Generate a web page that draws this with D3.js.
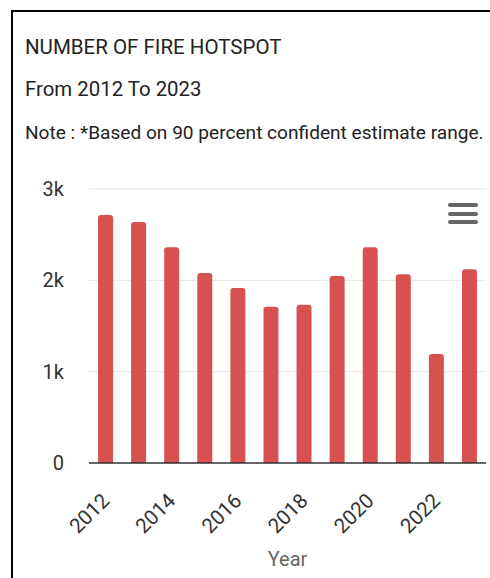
<!DOCTYPE html>
<html lang="en">
<head>
<meta charset="UTF-8">
<title>Number of Fire Hotspot</title>
<script src="https://d3js.org/d3.v7.min.js"></script>
<style>
    body { margin: 0; background: #fff; }
    text { font-family: Roboto, "Noto Sans", sans-serif; }
</style>
</head>
<body>
<div id="chart"></div>
<script>
    // values
    const years = ['2012', '2013', '2014', '2015', '2016', '2017', '2018', '2019', '2020', '2021', '2022', '2023'];
    const hotspots = [2716, 2640, 2362, 2081, 1917, 1712, 1734, 2048, 2362, 2067, 1194, 2121];
    const yTicks = [0, 1000, 2000, 3000];
    const yTickLabels = ['0', '1k', '2k', '3k'];

    const width = 490, height = 578;
    const plot = {left: 89, right: 486, top: 189, bottom: 463};

    const svg = d3.select('#chart')
        .append('svg')
        .attr('width', width)
        .attr('height', height);

    // frame (only top and left edges are visible)
    svg.append('path')
        .attr('d', `M12,${height} V11 H${width}`)
        .attr('fill', 'none')
        .attr('stroke', '#000')
        .attr('stroke-width', 2);

    svg.append('text')
        .attr('x', 25).attr('y', 54)
        .attr('font-size', 20.5)
        .attr('fill', '#222')
        .text('NUMBER OF FIRE HOTSPOT');

    svg.append('text')
        .attr('x', 25).attr('y', 96)
        .attr('font-size', 20.4)
        .attr('fill', '#222')
        .text('From 2012 To 2023');

    svg.append('text')
        .attr('x', 25).attr('y', 139)
        .attr('font-size', 19.1)
        .attr('fill', '#222')
        .text('Note : *Based on 90 percent confident estimate range.');

    const x = d3.scaleBand()
        .domain(years)
        .range([plot.left, plot.right])
        .paddingInner(0.547)
        .paddingOuter(0.2735);

    const y = d3.scaleLinear()
        .domain([0, 3000])
        .range([plot.bottom, plot.top]);

    // grid lines
    svg.append('g')
        .selectAll('line')
        .data(yTicks.slice(1))
        .enter()
        .append('line')
        .attr('x1', plot.left).attr('x2', plot.right)
        .attr('y1', d => y(d)).attr('y2', d => y(d))
        .attr('stroke', '#e6e6e6')
        .attr('stroke-width', 1);

    // y labels
    svg.append('g')
        .selectAll('text')
        .data(yTicks)
        .enter()
        .append('text')
        .attr('x', 64)
        .attr('y', d => y(d))
        .attr('dy', '0.35em')
        .attr('text-anchor', 'end')
        .attr('font-size', 20)
        .attr('fill', '#333')
        .text((d, i) => yTickLabels[i]);

    // bars, rounded on top only
    const r = 3;
    svg.append('g')
        .selectAll('path')
        .data(hotspots)
        .enter()
        .append('path')
        .attr('d', (d, i) => {
            const x0 = x(years[i]), w = x.bandwidth(), y0 = y(d), y1 = y(0);
            return `M${x0},${y1} V${y0 + r} Q${x0},${y0} ${x0 + r},${y0} H${x0 + w - r} Q${x0 + w},${y0} ${x0 + w},${y0 + r} V${y1} Z`;
        })
        .attr('fill', '#d75151');

    // x axis line
    svg.append('line')
        .attr('x1', plot.left).attr('x2', plot.right)
        .attr('y1', plot.bottom).attr('y2', plot.bottom)
        .attr('stroke', '#333')
        .attr('stroke-width', 1.5);

    // x labels, every other year
    svg.append('g')
        .selectAll('text')
        .data(years.filter((d, i) => i % 2 === 0))
        .enter()
        .append('text')
        .attr('transform', d => `translate(${x(d) + x.bandwidth() / 2 + 5},${plot.bottom + 39}) rotate(-45)`)
        .attr('text-anchor', 'end')
        .attr('font-size', 20.5)
        .attr('fill', '#333')
        .text(d => d);

    svg.append('text')
        .attr('x', (plot.left + plot.right) / 2)
        .attr('y', 566)
        .attr('text-anchor', 'middle')
        .attr('font-size', 20)
        .attr('fill', '#666')
        .text('Year');

    // context menu icon
    svg.append('g')
        .selectAll('line')
        .data([205, 214, 222])
        .enter()
        .append('line')
        .attr('x1', 450).attr('x2', 476)
        .attr('y1', d => d).attr('y2', d => d)
        .attr('stroke', '#666')
        .attr('stroke-width', 4)
        .attr('stroke-linecap', 'round');
</script>
</body>
</html>
